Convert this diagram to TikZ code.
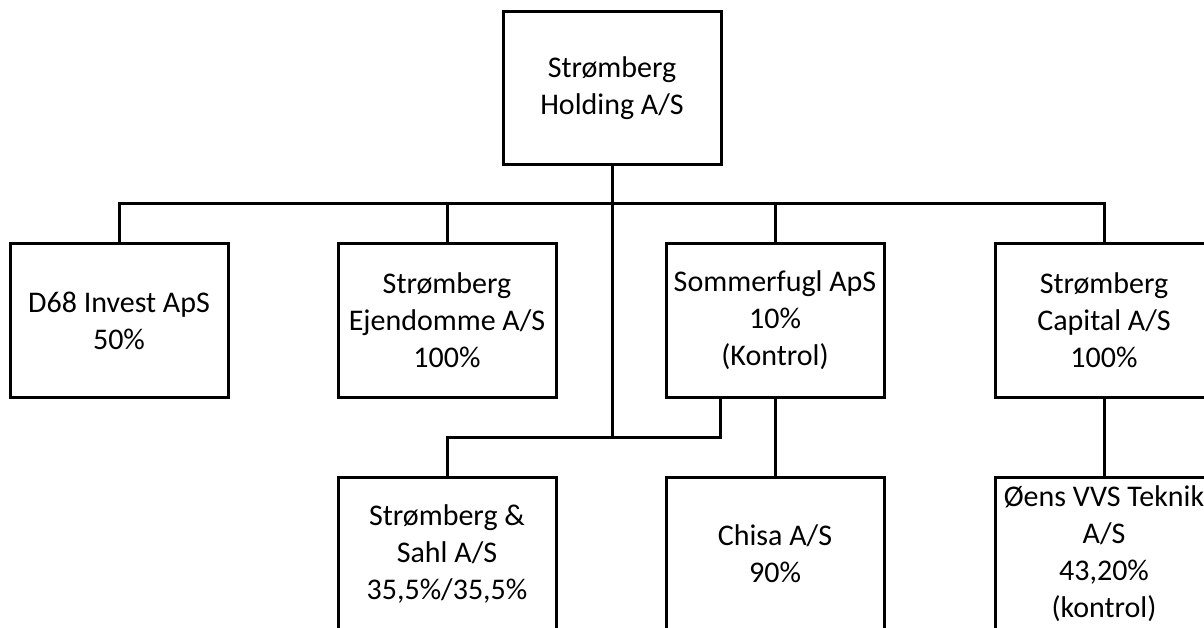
\documentclass[tikz,border=0pt]{standalone}
\usepackage{fontspec}
\setmainfont{Carlito}
\begin{document}
\begin{tikzpicture}[x=1pt,y=1pt,
  box/.style={draw=black, line width=3pt, fill=white, minimum width=218pt, minimum height=153pt,
    inner sep=0pt, align=center, font=\fontsize{30}{37}\selectfont},
  conn/.style={draw=black, line width=3pt}]
\useasboundingbox (0,0) rectangle (1204,-628);
\clip (0,0) rectangle (1204,-628);
\fill[white] (0,0) rectangle (1204,-628);
% nodes
\node[box] (hold) at (612,-88.5) {Strømberg\\Holding A/S};
\node[box] (d68) at (119,-320.5) {D68 Invest ApS\\50\%};
\node[box] (ejd) at (447,-320.5) {Strømberg\\Ejendomme A/S\\100\%};
\node[box] (som) at (775,-320.5) {Sommerfugl ApS\\10\%\\(Kontrol)};
\node[box] (cap) at (1104,-320.5) {Strømberg\\Capital A/S\\100\%};
\node[box] (sahl) at (447,-554) {Strømberg \&\\Sahl A/S\\35,5\%/35,5\%};
\node[box] (chisa) at (775,-554) {Chisa A/S\\90\%};
\node[box] (oens) at (1104,-554) {Øens VVS Teknik\\A/S\\43,20\%\\(kontrol)};
% coordinates
\coordinate (bus) at (612,-204);
\coordinate (sbus) at (612,-437);
\coordinate (somL) at (720,-398);
% connectors
\draw[conn] (d68.north) -- (d68.north |- bus) -- (cap.north |- bus) -- (cap.north);
\draw[conn] (ejd.north) -- (ejd.north |- bus);
\draw[conn] (som.north) -- (som.north |- bus);
\draw[conn] (hold.south) -- (sbus);
\draw[conn] (sahl.north) -- (sahl.north |- sbus) -- (somL |- sbus) -- (somL);
\draw[conn] (som.south) -- (chisa.north);
\draw[conn] (cap.south) -- (oens.north);
\end{tikzpicture}
\end{document}
